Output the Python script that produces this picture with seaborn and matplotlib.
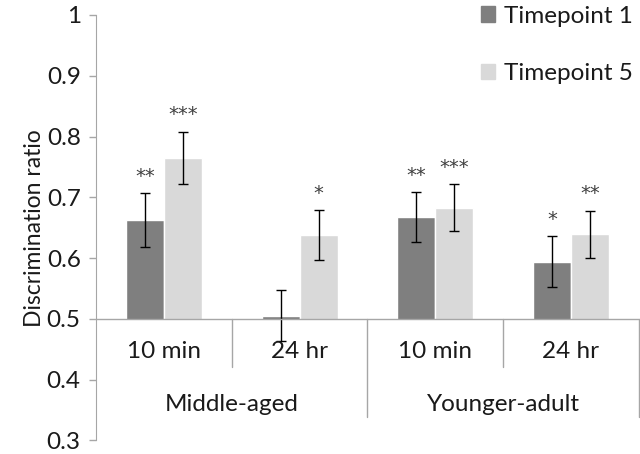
import numpy as np
import pandas as pd
import matplotlib
matplotlib.use("Agg")
import matplotlib.pyplot as plt
from matplotlib.patches import Rectangle, Patch
import seaborn as sns

# values
groups = ["Middle-aged", "Middle-aged", "Younger-adult", "Younger-adult"]
delays = ["10 min", "24 hr", "10 min", "24 hr"]
tp1 = [0.663, 0.505, 0.668, 0.594]
tp5 = [0.765, 0.638, 0.683, 0.639]
tp1_err = [0.044, 0.042, 0.041, 0.042]
tp5_err = [0.043, 0.041, 0.039, 0.039]
tp1_sig = ["**", "", "**", "*"]
tp5_sig = ["***", "*", "***", "**"]
series = ["Timepoint 1", "Timepoint 5"]
yticks = [0.3, 0.4, 0.5, 0.6, 0.7, 0.8, 0.9, 1.0]

dark = "#7f7f7f"
light = "#d9d9d9"
axis_gray = "#a6a6a6"
text_col = "#1a1a1a"

sns.set_style("white")
plt.rcParams["font.family"] = ["Lato", "DejaVu Sans"]
plt.rcParams["text.color"] = text_col
plt.rcParams["axes.labelcolor"] = text_col
plt.rcParams["ytick.labelcolor"] = text_col

conditions = [g + " | " + d for g, d in zip(groups, delays)]
df = pd.DataFrame({
    "condition": conditions * 2,
    "timepoint": [series[0]] * 4 + [series[1]] * 4,
    "ratio": tp1 + tp5,
})

fig = plt.figure(figsize=(6.4, 4.54), dpi=100)
ax = fig.add_axes([0.15, 0.03, 0.848, 0.937])

sns.barplot(data=df, x="condition", y="ratio", hue="timepoint", order=conditions,
            hue_order=series, palette=[dark, light], width=0.56, saturation=1,
            errorbar=None, legend=False, ax=ax)

ax.set_xlim(-0.5, 3.5)
ax.set_ylim(0.3, 1.0)

# bars start at the 0.5 baseline
clip = Rectangle((-0.5, 0.5), 4, 1, transform=ax.transData)
for bar in ax.patches:
    bar.set_clip_path(clip)

# error bars and significance stars
for cont, errs, sigs in zip(ax.containers, [tp1_err, tp5_err], [tp1_sig, tp5_sig]):
    for bar, e, s in zip(cont, errs, sigs):
        x = bar.get_x() + bar.get_width() / 2
        h = bar.get_height()
        ax.errorbar(x, h, yerr=e, color="black", capsize=3.5, lw=1, capthick=1)
        if s:
            ax.text(x, h + e + 0.012, s, ha="center", va="bottom", fontsize=14,
                    color="#404040", family="DejaVu Sans")

# category axis drawn as a table of labels
ax.axhline(0.5, color=axis_gray, lw=1, clip_on=False)
for xs, ybot in [(0.5, 0.42), (1.5, 0.338), (2.5, 0.42), (3.5, 0.338)]:
    ax.plot([xs, xs], [0.5, ybot], color=axis_gray, lw=1, clip_on=False)
for i, d in enumerate(delays):
    ax.text(i, 0.447, d, ha="center", va="center", fontsize=17.5)
for i, g in enumerate(dict.fromkeys(groups)):
    ax.text(2 * i + 0.5, 0.359, g, ha="center", va="center", fontsize=17.5)

ax.set_xticks([])
ax.set_xlabel("")
ax.set_yticks(yticks)
ax.set_yticklabels([f"{v:g}" for v in yticks])
ax.set_ylabel("Discrimination ratio", fontsize=16.5, labelpad=1)
ax.tick_params(axis="y", left=True, direction="out", length=5, width=1,
               color=axis_gray, labelsize=17.5, pad=6)
for side in ["top", "right", "bottom"]:
    ax.spines[side].set_visible(False)
ax.spines["left"].set_color(axis_gray)

handles = [Patch(color=dark, label=series[0]), Patch(color=light, label=series[1])]
fig.legend(handles=handles, loc="upper left", bbox_to_anchor=(0.717, 1.036),
           frameon=False, fontsize=17.5, handlelength=0.6, handleheight=0.6,
           handletextpad=0.35, labelspacing=1.5)

fig.savefig("out.png", dpi=100)
